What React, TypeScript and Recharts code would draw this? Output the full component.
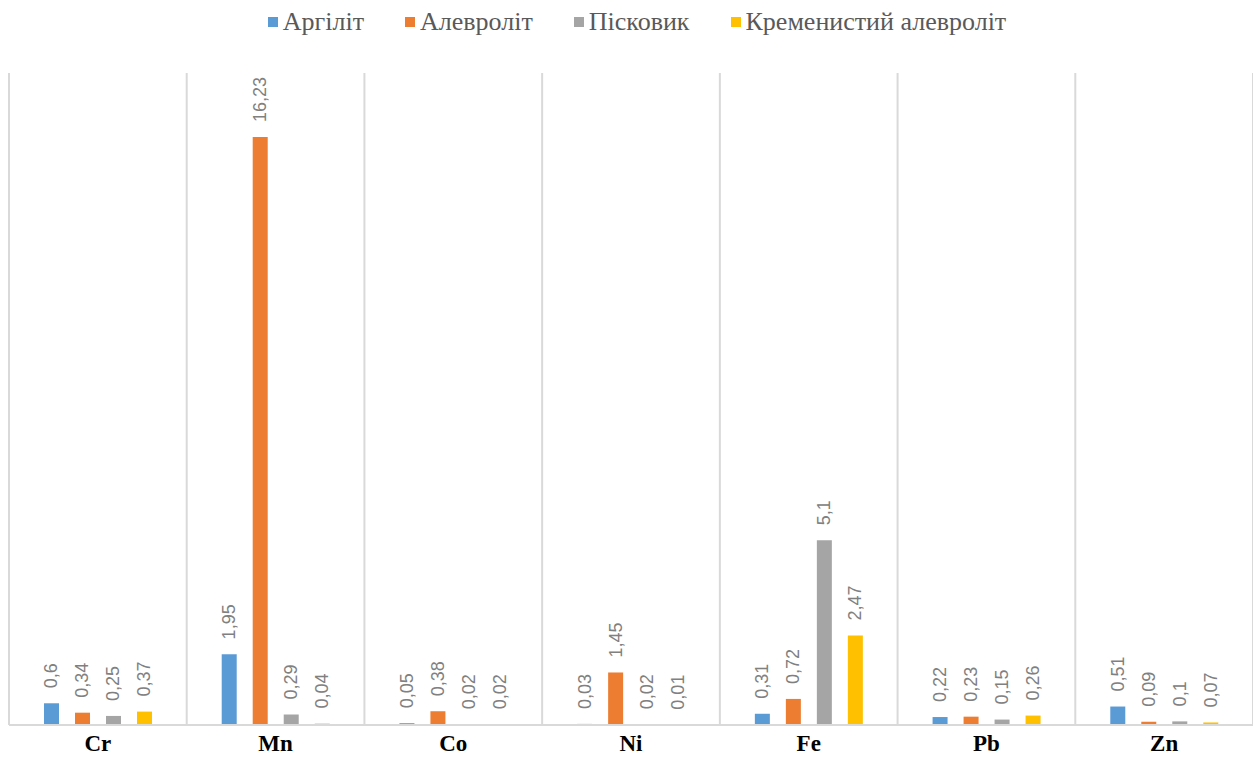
import { BarChart, Bar, XAxis, YAxis, CartesianGrid, Legend, LabelList } from 'recharts'

// ── Data ───────────────────────────────────────────────────────────────────

const elements = ['Cr', 'Mn', 'Co', 'Ni', 'Fe', 'Pb', 'Zn']

const argillite = [0.6, 1.95, 0.05, 0.03, 0.31, 0.22, 0.51]
const siltstone = [0.34, 16.23, 0.38, 1.45, 0.72, 0.23, 0.09]
const sandstone = [0.25, 0.29, 0.02, 0.02, 5.1, 0.15, 0.1]
const siliceousSiltstone = [0.37, 0.04, 0.02, 0.01, 2.47, 0.26, 0.07]

const SERIES = [
  { key: 'argillite', name: 'Аргіліт', color: '#5b9bd5', values: argillite },
  { key: 'siltstone', name: 'Алевроліт', color: '#ed7d31', values: siltstone },
  { key: 'sandstone', name: 'Пісковик', color: '#a5a5a5', values: sandstone },
  { key: 'siliceous', name: 'Кременистий алевроліт', color: '#ffc000', values: siliceousSiltstone },
]

const data = elements.map((el, i) => {
  const row: Record<string, string | number> = { element: el }
  SERIES.forEach(s => { row[s.key] = s.values[i] })
  return row
})

// ── Pieces ─────────────────────────────────────────────────────────────────

const fmt = (v: unknown) => String(v).replace('.', ',')

function RotatedLabel(props: any) {
  const { x, y, width, value } = props
  const cx = Number(x) + Number(width) / 2
  const cy = Number(y) - 15
  return (
    <text
      x={cx} y={cy}
      transform={`rotate(-90, ${cx}, ${cy})`}
      textAnchor="start"
      dominantBaseline="central"
      fontFamily="'Liberation Sans', Arial, sans-serif"
      fontSize={18}
      fill="#808080"
    >
      {fmt(value)}
    </text>
  )
}

function TopLegend() {
  return (
    <div style={{
      height: 44, display: 'flex', justifyContent: 'center', alignItems: 'center',
      gap: 41, fontFamily: "'Liberation Serif', 'Times New Roman', serif",
      fontSize: 26, color: '#595959', paddingLeft: 12,
    }}>
      {SERIES.map(s => (
        <span key={s.key} style={{ display: 'flex', alignItems: 'center', gap: 5 }}>
          <span style={{ width: 10, height: 10, background: s.color, display: 'inline-block' }} />
          {s.name}
        </span>
      ))}
    </div>
  )
}

// category boundaries, not centres
const boundaries = ({ offset }: any) => {
  const n = elements.length
  const step = offset.width / n
  return Array.from({ length: n + 1 }, (_, i) => offset.left + i * step)
}

export default function App() {
  return (
    <div style={{ position: 'absolute', left: 0, top: 0, background: '#fff' }}>
      <BarChart
        width={1253}
        height={758}
        data={data}
        margin={{ top: 29, right: 0, left: 9, bottom: 3 }}
        barCategoryGap="20%"
        barGap={16}
      >
        <CartesianGrid
          horizontal={false}
          stroke="#d9d9d9"
          strokeWidth={2}
          verticalCoordinatesGenerator={boundaries}
        />
        <XAxis
          dataKey="element"
          axisLine={{ stroke: '#d9d9d9', strokeWidth: 2 }}
          tickLine={false}
          height={30}
          tick={{ fontSize: 23, fontWeight: 700, fill: '#000', fontFamily: "'Liberation Serif', serif" }}
          tickMargin={4}
        />
        <YAxis hide domain={[0, 18]} />
        <Legend verticalAlign="top" content={<TopLegend />} wrapperStyle={{ top: 0 }} />
        {SERIES.map(s => (
          <Bar key={s.key} dataKey={s.key} name={s.name} fill={s.color} barSize={15} isAnimationActive={false}>
            <LabelList dataKey={s.key} content={<RotatedLabel />} />
          </Bar>
        ))}
      </BarChart>
    </div>
  )
}
